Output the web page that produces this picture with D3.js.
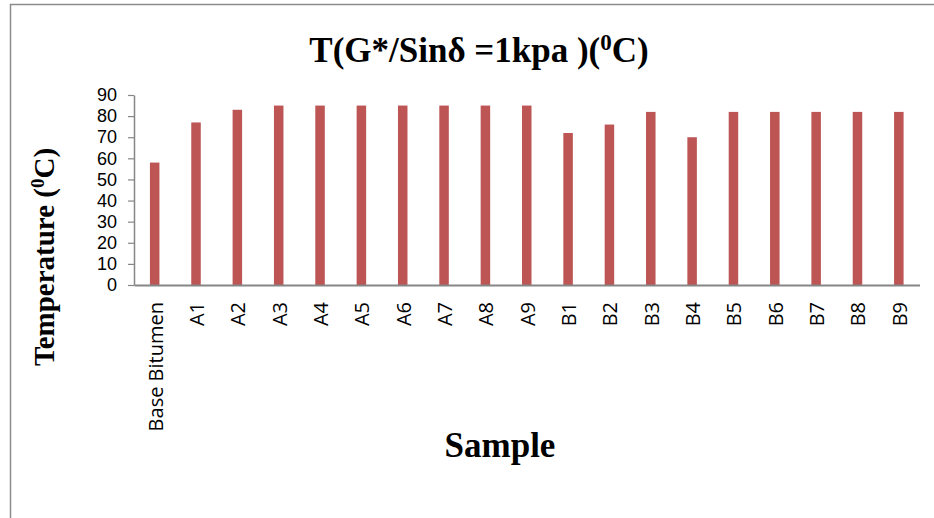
<!DOCTYPE html>
<html>
<head>
<meta charset="utf-8">
<script src="https://cdn.jsdelivr.net/npm/d3@7"></script>
<style>
  body { margin: 0; background: #fff; }
  svg { display: block; }
</style>
</head>
<body>
<script>
// chart data
var samples = ["Base Bitumen", "A1", "A2", "A3", "A4", "A5", "A6", "A7", "A8", "A9",
               "B1", "B2", "B3", "B4", "B5", "B6", "B7", "B8", "B9"];
var temps = [58, 77, 83, 85, 85, 85, 85, 85, 85, 85,
             72, 76, 82, 70, 82, 82, 82, 82, 82];
var yTicks = [0, 10, 20, 30, 40, 50, 60, 70, 80, 90];

var width = 934, height = 518,
    margin = {top: 95, right: 14.5, bottom: 233, left: 134};

var svg = d3.select("body").append("svg")
    .attr("width", width)
    .attr("height", height);

// outer frame (runs off the right and bottom edges)
svg.append("path")
    .attr("d", "M940,4.5H10.5V530")
    .attr("fill", "none")
    .attr("stroke", "#8c8c8c")
    .attr("stroke-width", 1.5);

var x = d3.scaleBand()
    .domain(samples)
    .range([margin.left, width - margin.right])
    .paddingInner(0.77)
    .paddingOuter(0.385);

var y = d3.scaleLinear()
    .domain([0, 90])
    .range([height - margin.bottom, margin.top]);

// bars
svg.append("g")
  .selectAll("rect")
  .data(temps)
  .join("rect")
    .attr("x", function(d, i) { return x(samples[i]); })
    .attr("y", function(d) { return y(d); })
    .attr("width", x.bandwidth())
    .attr("height", function(d) { return y(0) - y(d); })
    .attr("fill", "#bc5553");

// y axis
var yAxis = svg.append("g")
    .attr("transform", "translate(" + margin.left + ",0)")
    .call(d3.axisLeft(y).tickValues(yTicks).tickSize(6).tickPadding(11).tickSizeOuter(0));
yAxis.select(".domain").attr("stroke", "#868686").attr("stroke-width", 1.5);
yAxis.selectAll(".tick line").attr("stroke", "#868686").attr("stroke-width", 1.2);
yAxis.selectAll("text")
    .attr("fill", "#000")
    .style("font-family", "'Liberation Sans', sans-serif")
    .style("font-size", "18px");

// x axis
var xAxis = svg.append("g")
    .attr("transform", "translate(0," + y(0) + ")")
    .call(d3.axisBottom(x).tickSize(0).tickSizeOuter(0));
xAxis.select(".domain").attr("stroke", "#868686").attr("stroke-width", 2);
xAxis.selectAll("text")
    .attr("fill", "#000")
    .attr("transform", "rotate(-90)")
    .attr("x", -17)
    .attr("y", 1)
    .attr("dy", "0.35em")
    .style("text-anchor", "end")
    .style("font-family", "'Open Sans', sans-serif")
    .style("font-size", "20px");

// title
var title = svg.append("text")
    .attr("x", 479)
    .attr("y", 62)
    .attr("text-anchor", "middle")
    .style("font-family", "'Liberation Serif', serif")
    .style("font-weight", "bold")
    .style("font-size", "35px");
title.append("tspan").text("T(G*/Sin\u03b4 =1kpa )(");
title.append("tspan").attr("baseline-shift", "super").style("font-size", "23px").text("0");
title.append("tspan").text("C)");

// y axis title
var yTitle = svg.append("text")
    .attr("transform", "translate(54,257) rotate(-90)")
    .attr("text-anchor", "middle")
    .style("font-family", "'Liberation Serif', serif")
    .style("font-weight", "bold")
    .style("font-size", "29px");
yTitle.append("tspan").text("Temperature (");
yTitle.append("tspan").attr("baseline-shift", "super").style("font-size", "19px").text("0");
yTitle.append("tspan").text("C)");

// x axis title
svg.append("text")
    .attr("x", 500)
    .attr("y", 457)
    .attr("text-anchor", "middle")
    .style("font-family", "'Liberation Serif', serif")
    .style("font-weight", "bold")
    .style("font-size", "35px")
    .text("Sample");
</script>
</body>
</html>
